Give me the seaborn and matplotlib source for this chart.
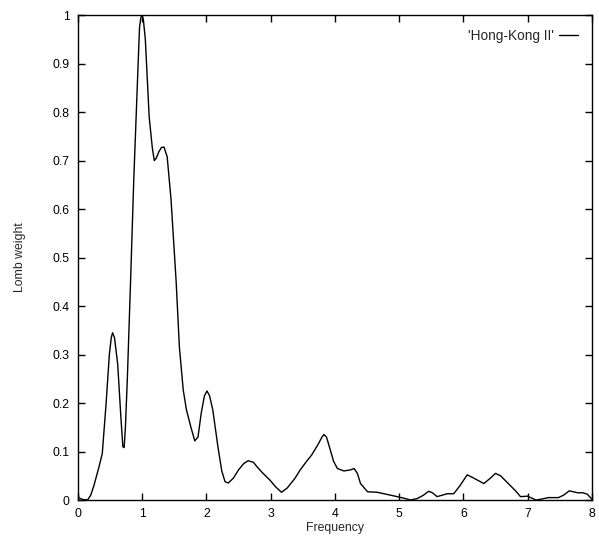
import matplotlib
matplotlib.use("Agg")
import matplotlib.pyplot as plt
import seaborn as sns
import pandas as pd

# valores
frequency = [0.0, 0.02, 0.08, 0.15, 0.20, 0.25, 0.33, 0.38, 0.44, 0.49, 0.52, 0.54, 0.57, 0.62,
             0.67, 0.70, 0.72, 0.74, 0.77, 0.82, 0.87, 0.94, 0.96, 0.98, 1.0, 1.02, 1.05, 1.11,
             1.16, 1.19, 1.22, 1.26, 1.30, 1.34, 1.39, 1.45, 1.53, 1.58, 1.64, 1.69, 1.76, 1.82,
             1.87, 1.92, 1.97, 2.01, 2.05, 2.10, 2.18, 2.24, 2.29, 2.34, 2.42, 2.50, 2.58, 2.65,
             2.73, 2.80, 2.86, 2.99, 3.08, 3.17, 3.26, 3.38, 3.46, 3.55, 3.64, 3.74, 3.80, 3.83,
             3.87, 3.93, 3.98, 4.04, 4.14, 4.24, 4.30, 4.35, 4.40, 4.51, 4.66, 4.80, 4.97, 5.10,
             5.18, 5.28, 5.38, 5.46, 5.52, 5.59, 5.75, 5.85, 5.95, 6.06, 6.15, 6.32, 6.42, 6.50,
             6.58, 6.73, 6.82, 6.89, 7.00, 7.13, 7.22, 7.32, 7.48, 7.56, 7.65, 7.78, 7.86, 7.93, 8.0]
lomb_weight = [0.01, 0.004, 0.001, 0.0, 0.01, 0.03, 0.069, 0.096, 0.20, 0.30, 0.335, 0.345, 0.335, 0.28,
               0.17, 0.11, 0.108, 0.15, 0.25, 0.45, 0.66, 0.907, 0.975, 0.995, 1.0, 0.99, 0.95, 0.79,
               0.725, 0.70, 0.705, 0.718, 0.727, 0.728, 0.708, 0.62, 0.45, 0.316, 0.227, 0.186, 0.15, 0.122,
               0.13, 0.179, 0.215, 0.225, 0.215, 0.186, 0.11, 0.06, 0.038, 0.035, 0.045, 0.062, 0.075, 0.081,
               0.078, 0.067, 0.058, 0.041, 0.027, 0.016, 0.025, 0.045, 0.062, 0.078, 0.093, 0.115, 0.13, 0.135,
               0.13, 0.103, 0.08, 0.065, 0.06, 0.062, 0.065, 0.055, 0.034, 0.017, 0.016, 0.012, 0.007, 0.003,
               0.0, 0.003, 0.01, 0.018, 0.015, 0.007, 0.013, 0.013, 0.03, 0.052, 0.046, 0.034, 0.045, 0.055,
               0.05, 0.03, 0.018, 0.007, 0.008, 0.0, 0.002, 0.005, 0.005, 0.01, 0.019, 0.015, 0.015, 0.012, 0.002]
serie = "'Hong-Kong II'"

x_ticks = [0, 1, 2, 3, 4, 5, 6, 7, 8]
y_ticks = [0, 0.1, 0.2, 0.3, 0.4, 0.5, 0.6, 0.7, 0.8, 0.9, 1]
y_labels = ['0', '0.1', '0.2', '0.3', '0.4', '0.5', '0.6', '0.7', '0.8', '0.9', '1']

sns.set_style("white")
plt.rcParams['font.family'] = ['Liberation Sans', 'DejaVu Sans']

df = pd.DataFrame({'Frequency': frequency, 'Lomb weight': lomb_weight})

fig = plt.figure(figsize=(5.99, 5.40), dpi=100)
ax = fig.add_axes([0.130, 0.074, 0.858, 0.898])

sns.lineplot(data=df, x='Frequency', y='Lomb weight', ax=ax, color='black',
             linewidth=1.0, label=serie)

ax.set_xlim(0, 8)
ax.set_ylim(0, 1)
ax.set_xticks(x_ticks)
ax.set_xticklabels([str(t) for t in x_ticks])
ax.set_yticks(y_ticks)
ax.set_yticklabels(y_labels)
ax.tick_params(direction='in', length=5, width=1, labelsize=8.8, colors='black',
               top=True, right=True, bottom=True, left=True, pad=6)
for s in ax.spines.values():
    s.set_color('black')
    s.set_linewidth(1.0)

ax.set_xlabel('Frequency', fontsize=8.8, labelpad=1)
ax.set_ylabel('Lomb weight', fontsize=8.8, labelpad=19)

ax.legend(loc='upper right', frameon=False, markerfirst=False, fontsize=9.8,
          handlelength=1.4, handletextpad=0.4, borderaxespad=0.6)

plt.savefig('out.png', dpi=100)
